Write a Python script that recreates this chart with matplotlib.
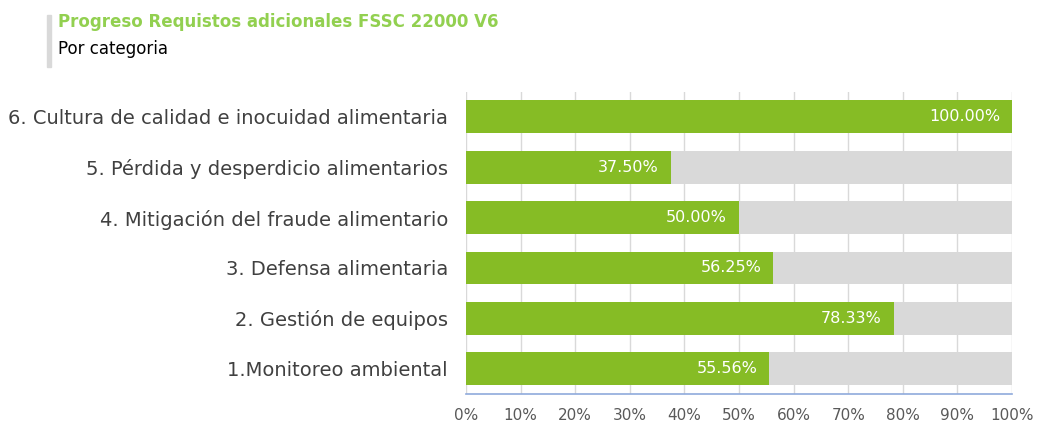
import matplotlib
matplotlib.use("Agg")
import matplotlib.pyplot as plt
from matplotlib.patches import Rectangle

categories = [
    "1.Monitoreo ambiental",
    "2. Gestión de equipos",
    "3. Defensa alimentaria",
    "4. Mitigación del fraude alimentario",
    "5. Pérdida y desperdicio alimentarios",
    "6. Cultura de calidad e inocuidad alimentaria",
]
progress = [55.56, 78.33, 56.25, 50.00, 37.50, 100.00]
total = [100, 100, 100, 100, 100, 100]
xticks = [0, 10, 20, 30, 40, 50, 60, 70, 80, 90, 100]

plt.rcParams['font.family'] = ['DejaVu Sans']

fig = plt.figure(figsize=(10.37, 4.25), dpi=100)
ax = fig.add_axes([0.4494, 0.0729, 0.9759 - 0.4494, 0.7847 - 0.0729])

y = list(range(len(categories)))
ax.barh(y, total, height=0.65, color="#D9D9D9", zorder=2)
ax.barh(y, progress, height=0.65, color="#86BC25", zorder=3)
for yi, v in zip(y, progress):
    ax.text(v - 2.2, yi, f"{v:.2f}%", ha="right", va="center", color="white",
            fontsize=11.5, zorder=4)

ax.set_xlim(0, 100)
ax.set_ylim(-0.5, len(categories) - 0.5)
ax.set_xticks(xticks)
ax.set_xticklabels([f"{t}%" for t in xticks], color="#595959", fontsize=11)
ax.set_yticks(y)
ax.set_yticklabels(categories, color="#404040", fontsize=14)
ax.tick_params(axis="both", length=0)
ax.tick_params(axis="x", pad=10)
ax.tick_params(axis="y", pad=13)
ax.xaxis.grid(True, color="#D9D9D9", linewidth=1, zorder=0)
ax.set_axisbelow(True)
for s in ["top", "right", "left"]:
    ax.spines[s].set_visible(False)
ax.spines["bottom"].set_color("#8FAADC")
ax.spines["bottom"].set_linewidth(1.2)

fig.patches.append(Rectangle((47 / 1037, 1 - 67 / 425), 4 / 1037, 52 / 425,
                             transform=fig.transFigure, color="#D9D9D9"))
fig.text(58 / 1037, 1 - 22 / 425, "Progreso Requistos adicionales FSSC 22000 V6",
         color="#92D050", fontsize=12, fontweight="bold", va="center", ha="left")
fig.text(58 / 1037, 1 - 49 / 425, "Por categoria", color="#000000",
         fontsize=12, va="center", ha="left")

fig.savefig("out.png", dpi=100)
